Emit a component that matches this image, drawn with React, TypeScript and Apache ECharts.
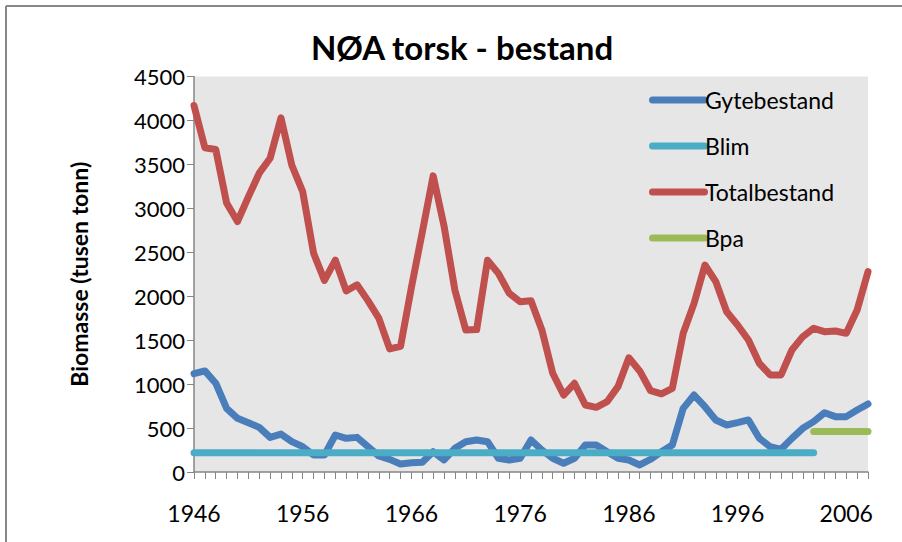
import React, { useEffect, useRef } from "react";
import * as echarts from "echarts";

const years: string[] = [];
for (let y = 1946; y <= 2008; y++) years.push(String(y));

const gytebestand = [
  1120, 1150, 1010, 724, 611, 561, 508, 394, 432, 345,
  288, 193, 193, 421, 383, 394, 288, 182, 144, 91,
  106, 110, 231, 137, 270, 345, 364, 345, 156, 137,
  156, 364, 250, 156, 99, 156, 307, 307, 231, 156,
  137, 80, 145, 231, 307, 724, 876, 743, 592, 535,
  561, 592, 383, 288, 258, 383, 497, 573, 675, 630,
  630, 705, 774,
];

const totalbestand = [
  4170, 3690, 3670, 3060, 2850, 3130, 3400, 3570, 4030, 3490,
  3190, 2490, 2180, 2410, 2060, 2130, 1950, 1750, 1400, 1430,
  2100, 2730, 3370, 2800, 2070, 1616, 1620, 2410, 2260, 2033,
  1938, 1949, 1616, 1123, 876, 1009, 762, 736, 800, 971,
  1300, 1150, 925, 890, 952, 1578, 1919, 2355, 2166, 1824,
  1673, 1502, 1237, 1104, 1104, 1388, 1540, 1635, 1597, 1604,
  1578, 1843, 2279,
];

const blimValue = 220;
const blimLastYear = 2003;
const bpaValue = 460;
const bpaFirstYear = 2003;

const blim = years.map((y) => (Number(y) <= blimLastYear ? blimValue : null));
const bpa = years.map((y) => (Number(y) >= bpaFirstYear ? bpaValue : null));

const yTicks = { min: 0, max: 4500, interval: 500 };

const FONT = "Lato, 'Open Sans', sans-serif";
const legendIcon =
  "path://M3.5,0 H55.5 A3.5,3.5 0 0 1 55.5,7 H3.5 A3.5,3.5 0 0 1 3.5,0 Z";

export default function App() {
  const ref = useRef<HTMLDivElement>(null);
  useEffect(() => {
    if (!ref.current) return;
    const chart = echarts.init(ref.current, null, { renderer: "svg" });
    const lineBase = (color: string) => ({
      type: "line" as const,
      symbol: "none",
      connectNulls: false,
      lineStyle: { color, width: 7, cap: "round", join: "round" },
      itemStyle: { color },
    });
    chart.setOption({
      animation: false,
      backgroundColor: "#ffffff",
      title: {
        text: "NØA torsk - bestand",
        left: 457,
        top: 25,
        textAlign: "center",
        textStyle: {
          fontFamily: FONT,
          fontSize: 33,
          fontWeight: "bold",
          color: "#000",
        },
      },
      graphic: [
        {
          type: "line",
          shape: { x1: 6, y1: 6, x2: 902, y2: 6 },
          style: { stroke: "#888888", lineWidth: 2 },
        },
        {
          type: "line",
          shape: { x1: 6, y1: 6, x2: 6, y2: 542 },
          style: { stroke: "#888888", lineWidth: 2 },
        },
      ],
      legend: {
        orient: "vertical",
        left: 644,
        top: 82,
        itemWidth: 59,
        itemHeight: 7,
        itemGap: 20,
        icon: legendIcon,
        textStyle: {
          fontFamily: FONT,
          fontSize: 23,
          lineHeight: 26,
          color: "#000",
          padding: [0, 0, 0, -8],
        },
        data: ["Gytebestand", "Blim", "Totalbestand", "Bpa"],
      },
      grid: {
        left: 194,
        right: 34,
        top: 76.5,
        bottom: 70,
        show: true,
        backgroundColor: "#E6E6E6",
        borderWidth: 0,
      },
      xAxis: {
        type: "category",
        data: years,
        boundaryGap: false,
        axisLine: { lineStyle: { color: "#868686", width: 1.5 } },
        axisTick: {
          show: true,
          interval: 0,
          length: 7,
          lineStyle: { color: "#868686", width: 1 },
        },
        axisLabel: {
          interval: 9,
          margin: 29,
          fontFamily: FONT,
          fontSize: 23,
          color: "#000",
        },
        splitLine: { show: false },
      },
      yAxis: {
        type: "value",
        min: yTicks.min,
        max: yTicks.max,
        interval: yTicks.interval,
        name: "Biomasse (tusen tonn)",
        nameLocation: "middle",
        nameGap: 104,
        nameTextStyle: {
          fontFamily: FONT,
          fontSize: 23,
          fontWeight: "bold",
          color: "#000",
        },
        axisLine: { show: true, lineStyle: { color: "#868686", width: 1.5 } },
        axisTick: {
          show: true,
          length: 7,
          lineStyle: { color: "#868686", width: 1 },
        },
        axisLabel: {
          margin: 9,
          fontFamily: FONT,
          fontSize: 22,
          color: "#000",
          formatter: (v: number) => String(v),
        },
        splitLine: { show: false },
      },
      series: [
        { ...lineBase("#4A7EBB"), name: "Gytebestand", data: gytebestand, z: 3 },
        { ...lineBase("#4BACC6"), name: "Blim", data: blim, z: 4 },
        { ...lineBase("#C0504D"), name: "Totalbestand", data: totalbestand, z: 2 },
        { ...lineBase("#9BBB59"), name: "Bpa", data: bpa, z: 2 },
      ],
    });
    return () => chart.dispose();
  }, []);
  return (
    <div
      ref={ref}
      style={{ position: "absolute", left: 0, top: 0, width: 902, height: 542 }}
    />
  );
}
